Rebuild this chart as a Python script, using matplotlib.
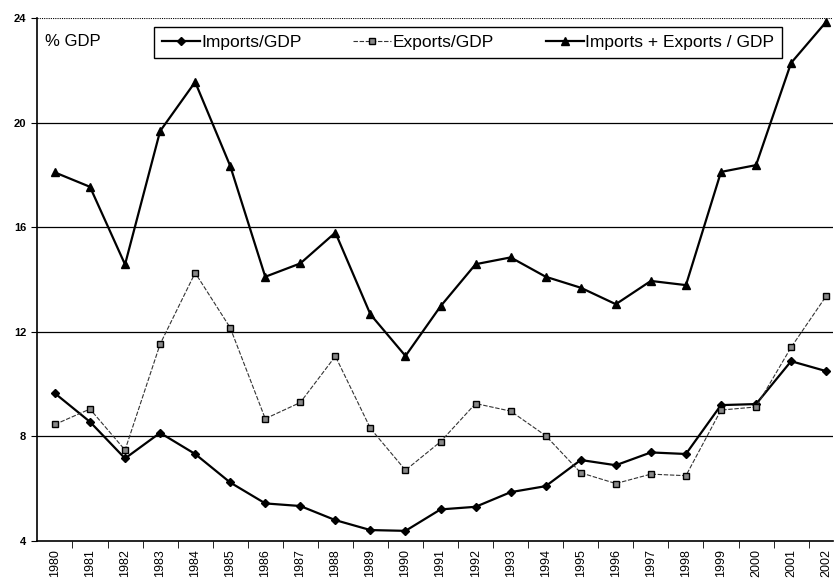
import matplotlib.pyplot as plt
import numpy as np

years = [str(y) for y in range(1980, 2003)]
imports_gdp = [9.64, 8.55, 7.15, 8.13, 7.32, 6.23, 5.43, 5.33, 4.79, 4.41, 4.38, 5.2,
               5.3, 5.86, 6.09, 7.09, 6.89, 7.38, 7.32, 9.19, 9.23, 10.87, 10.49]
exports_gdp = [8.45, 9.04, 7.47, 11.52, 14.25, 12.15, 8.67, 9.29, 11.06, 8.3, 6.7, 7.79,
               9.25, 8.96, 8.02, 6.6, 6.19, 6.55, 6.49, 9.0, 9.12, 11.4, 13.36]
total_gdp = [18.09, 17.54, 14.57, 19.67, 21.55, 18.34, 14.1, 14.61, 15.79, 12.66, 11.07, 12.97,
             14.58, 14.84, 14.1, 13.68, 13.05, 13.94, 13.78, 18.11, 18.37, 22.28, 23.85]
y_ticks = [4, 8, 12, 16, 20, 24]

plt.rcParams["font.family"] = ["Liberation Sans", "DejaVu Sans"]

fig = plt.figure(figsize=(8.34, 5.79), dpi=100)
ax = fig.add_axes([0.044, 0.066, 0.955, 0.903])

x = np.arange(len(years))

# gridlines
for v in y_ticks[1:-1]:
    ax.axhline(v, color="black", linewidth=0.9, zorder=1)
ax.axhline(24, color="black", linewidth=0.8, linestyle=(0, (1, 1)), zorder=1)

ax.plot(x, imports_gdp, color="black", linewidth=1.6, marker="D", markersize=4.5,
        label="Imports/GDP", zorder=3)
ax.plot(x, exports_gdp, color="#333333", linewidth=0.8, linestyle=(0, (4, 1.5)),
        marker="s", markersize=4.5, markerfacecolor="#888888", markeredgecolor="black",
        label="Exports/GDP", zorder=3)
ax.plot(x, total_gdp, color="black", linewidth=1.6, marker="^", markersize=6,
        label="Imports + Exports / GDP", zorder=3)

ax.set_xlim(-0.52, 22.2)
ax.set_ylim(4, 24)
ax.set_yticks(y_ticks)
ax.set_yticklabels([str(v) for v in y_ticks], fontsize=8, fontweight="bold")
ax.set_xticks(x)
ax.set_xticklabels(years, rotation=90, fontsize=9)
ax.tick_params(axis="x", length=0, pad=6)
ax.set_xticks(x[:-1] + 0.5, minor=True)
ax.tick_params(axis="x", which="minor", length=5, direction="out")
ax.tick_params(axis="y", length=4, direction="out")

ax.spines["top"].set_visible(False)
ax.spines["right"].set_visible(False)
ax.spines["left"].set_linewidth(1.2)
ax.spines["bottom"].set_linewidth(1.2)

ax.text(0.01, 0.955, "% GDP", transform=ax.transAxes, fontsize=12, va="center")

leg = ax.legend(loc="upper left", bbox_to_anchor=(0.147, 0.983), ncol=3, fontsize=12.5,
                frameon=True, fancybox=False, edgecolor="black", framealpha=1,
                handlelength=2.2, columnspacing=2.95, borderpad=0.45, handletextpad=0.1,
                borderaxespad=0)
leg.get_frame().set_linewidth(1.0)

fig.savefig("out.png", dpi=100)
